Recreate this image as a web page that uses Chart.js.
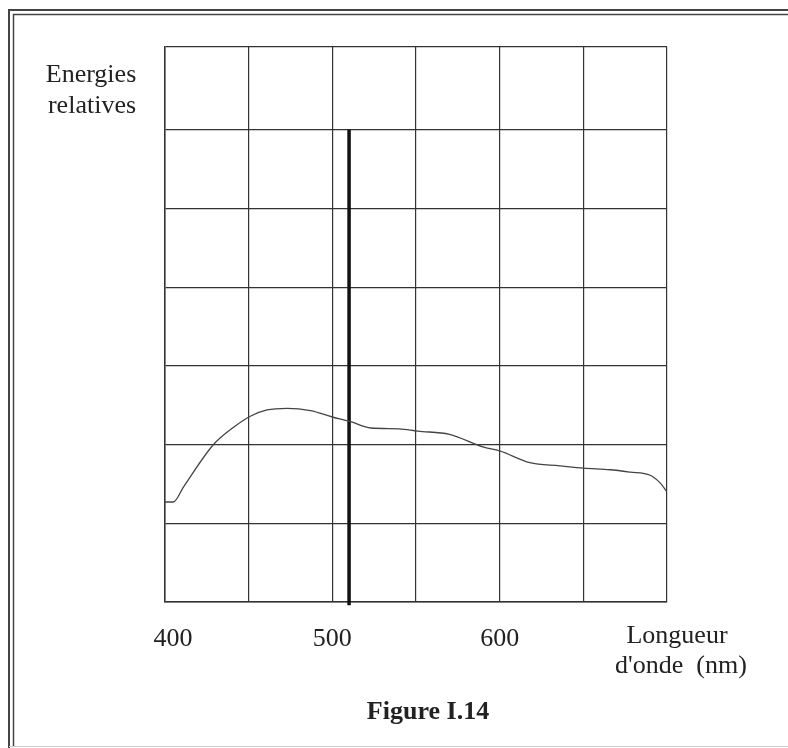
<!DOCTYPE html>
<html>
<head>
<meta charset="utf-8">
<script src="https://cdn.jsdelivr.net/npm/chart.js@4/dist/chart.umd.min.js"></script>
<style>
  html, body { margin: 0; padding: 0; background: #fff; }
  #wrap { width: 788px; height: 748px; position: relative; }
</style>
</head>
<body>
<div id="wrap"><canvas id="chartSpectre" width="788" height="748"></canvas></div>
<script>
// ================= DONNEES =================

const longueursOnde = [400, 405, 411, 429, 441, 451, 461, 473, 487, 500, 511, 523, 540, 551, 570, 590, 600, 618, 636, 650, 666, 678, 690, 696, 700];
const energies = [1.27, 1.27, 1.46, 2.00, 2.22, 2.36, 2.44, 2.46, 2.43, 2.35, 2.29, 2.21, 2.20, 2.17, 2.13, 1.97, 1.92, 1.77, 1.73, 1.70, 1.68, 1.65, 1.61, 1.51, 1.40];

const raieOnde = [510, 510];
const raieEnergie = [-0.04, 6];

const etiquettesX = [400, 500, 600];
const lignesY = [0, 1, 2, 3, 4, 5, 6, 7.05];

const POLICE = "'Liberation Serif', 'Times New Roman', serif";

// ================= DECOR =================

const decor = {
    id: "decor",
    beforeDraw(chart) {
        const ctx = chart.ctx;
        ctx.save();
        ctx.fillStyle = "#fff";
        ctx.fillRect(0, 0, chart.width, chart.height);
        ctx.restore();
    },
    afterDraw(chart) {
        const ctx = chart.ctx;
        const sx = chart.scales.x;
        ctx.save();

        // cadre double
        ctx.strokeStyle = "#444";
        ctx.lineWidth = 2;
        ctx.beginPath();
        ctx.moveTo(9, 800);
        ctx.lineTo(9, 10);
        ctx.lineTo(800, 10);
        ctx.stroke();
        ctx.lineWidth = 1.5;
        ctx.beginPath();
        ctx.moveTo(13.5, 746);
        ctx.lineTo(13.5, 14.5);
        ctx.lineTo(800, 14.5);
        ctx.stroke();
        ctx.strokeStyle = "#ccc";
        ctx.lineWidth = 1;
        ctx.beginPath();
        ctx.moveTo(9, 746.5);
        ctx.lineTo(800, 746.5);
        ctx.stroke();

        ctx.fillStyle = "#222";
        ctx.textAlign = "center";
        ctx.textBaseline = "alphabetic";
        ctx.font = "26px " + POLICE;

        // graduations de l'axe x (400 un peu decale vers la droite)
        etiquettesX.forEach((v, i) => {
            const px = sx.getPixelForValue(v) + (i === 0 ? 8 : 0);
            ctx.fillText(String(v), px, 646);
        });

        ctx.fillText("Energies", 91, 82);
        ctx.fillText("relatives", 92, 113);
        ctx.fillText("Longueur", 677, 643);
        ctx.fillText("d'onde  (nm)", 681, 673);

        ctx.font = "bold 26px " + POLICE;
        ctx.fillText("Figure I.14", 428, 719);

        ctx.restore();
    }
};

// ================= GRAPHIQUE =================

const ctxSpectre = document.getElementById("chartSpectre").getContext("2d");

const chartSpectre = new Chart(ctxSpectre, {

    type: "line",

    data: {
        datasets: [
            {
                data: longueursOnde.map((x, i) => ({ x, y: energies[i] })),
                borderColor: "#444",
                borderWidth: 1.3,
                pointRadius: 0,
                cubicInterpolationMode: "monotone",
                fill: false
            },
            {
                data: raieOnde.map((x, i) => ({ x, y: raieEnergie[i] })),
                borderColor: "#111",
                borderWidth: 3.5,
                pointRadius: 0,
                clip: false
            }
        ]
    },

    options: {
        responsive: false,
        animation: false,
        devicePixelRatio: 1,
        layout: {
            padding: { left: 165, right: 121, top: 47, bottom: 0 }
        },
        plugins: {
            legend: { display: false },
            tooltip: { enabled: false }
        },
        scales: {
            x: {
                type: "linear",
                min: 400,
                max: 700,
                afterBuildTicks: scale => {
                    const t = [];
                    for (let v = 400; v <= 700; v += 50) t.push({ value: v });
                    scale.ticks = t;
                },
                afterFit: scale => { scale.height = 146; },
                grid: { color: "#333", lineWidth: 1.2, drawTicks: false },
                border: { color: "#333", width: 1.5 },
                ticks: { display: false }
            },
            y: {
                type: "linear",
                min: 0,
                max: 7.05,
                afterBuildTicks: scale => {
                    scale.ticks = lignesY.map(v => ({ value: v }));
                },
                afterFit: scale => { scale.width = 0; },
                grid: { color: "#333", lineWidth: 1.2, drawTicks: false },
                border: { color: "#333", width: 1.5 },
                ticks: { display: false }
            }
        }
    },

    plugins: [decor]

});
</script>
</body>
</html>
